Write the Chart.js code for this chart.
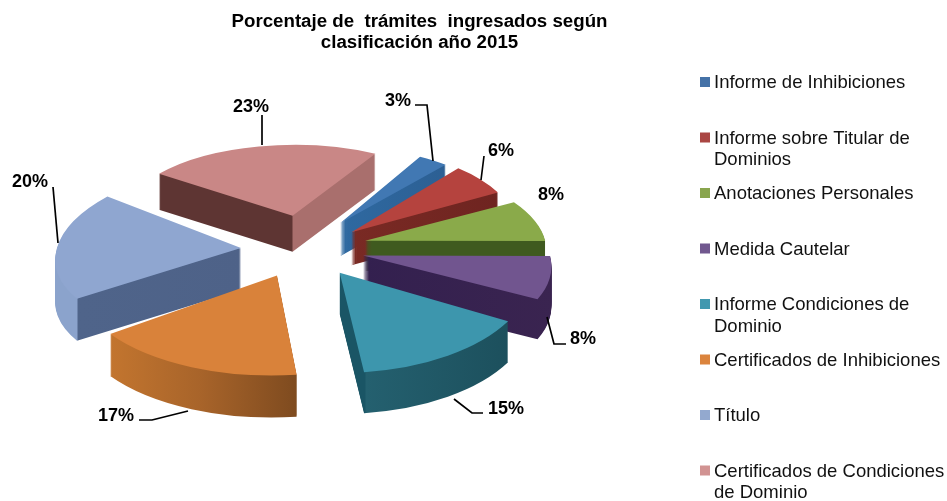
<!DOCTYPE html>
<html><head><meta charset="utf-8">
<style>html,body{margin:0;padding:0;background:#fff}canvas{display:block}</style>
<script src="https://cdn.jsdelivr.net/npm/chart.js@4"></script>
</head><body><canvas id="c" width="947" height="501"></canvas>
<script>
const categories = ['Informe de Inhibiciones','Informe sobre Titular de Dominios','Anotaciones Personales','Medida Cautelar','Informe Condiciones de Dominio','Certificados de Inhibiciones','Título','Certificados de Condiciones de Dominio'];
const legendLines = [['Informe de Inhibiciones'],['Informe sobre Titular de','Dominios'],['Anotaciones Personales'],['Medida Cautelar'],['Informe Condiciones de','Dominio'],['Certificados de Inhibiciones'],['Título'],['Certificados de Condiciones','de Dominio']];
const values = [3,6,8,8,15,17,20,23];
const titleLines = ['Porcentaje de  trámites  ingresados según','clasificación año 2015'];

const legendColors = ['#4572a7','#aa4643','#89a54e','#71588f','#4198af','#db843d','#93a9cf','#d19392'];
const topColors = ['#4178b3','#b5433e','#8aaa4a','#71558f','#3d96ad','#d9823a','#8fa6d0','#c98786'];
// wall shading: [pixel x, colour] stops
const wallStops = [
 [[330,'#2f6aa2'],[450,'#2c5f93']],
 [[345,'#7a2a24'],[505,'#6e2420']],
 [[360,'#3f5a1f'],[550,'#3f5a1f']],
 [[360,'#33204f'],[555,'#3a2450']],
 [[335,'#1a5565'],[365,'#1a5565'],[366,'#24606f'],[515,'#1c4f5c']],
 [[105,'#c4762f'],[200,'#a8642a'],[300,'#7d4a1f']],
 [[50,'#8ba3cc'],[77,'#8ba3cc'],[78,'#4f648a'],[245,'#4e6288']],
 [[155,'#5e3533'],[292,'#5e3533'],[293,'#a96f6d'],[380,'#a96f6d']]
];
// per-slice projection of the tilted pie
const radiusX = [165,167,180,187,192,202,184,167];
const radiusY = [76,83,80,90,100,100,87,71];
const skew = [0,0,0.24,0.25,0.01,-0.05,-0.29,-0.03];
const explodeX = [62,60,62,60,62,70,64,58];
const explodeY = [30,25,30,30,30,30,30,33];
const depth = [33,33,30,40,41,42,42,36];
const drawOrder = [7,0,1,2,6,3,5,4];
const pieCenter = {x:305,y:248};

// label text centre + leader polyline (in page pixels)
const labelPos = [[398,101],[501,151],[551,195],[583,339],[506,409],[116,416],[30,182],[251,107]];
const leaders = [
 [[415,105],[427,105],[433,161]],
 [[484,156],[481,180]],
 [],
 [[547,317],[554,344],[566,344]],
 [[454,399],[472,413],[483,413]],
 [[139,420],[152,420],[188,411]],
 [[53,187],[58,243]],
 [[262,115],[262,145]]
];
const legendLayout = {boxX:700,textX:714,firstY:82,step:55.5,lineH:21.5,box:10,textDy:1};
const FONT = '"Liberation Sans", Arial, sans-serif';

const pie3d = {
 id:'pie3d',
 beforeDatasetsDraw(chart){
  const ctx = chart.ctx, arcs = chart.getDatasetMeta(0).data;
  drawOrder.forEach(i=>{
   const a = arcs[i], base = a.options;
   const mid = (a.startAngle+a.endAngle)/2;
   const sx = radiusX[i]/a.outerRadius, sy = radiusY[i]/a.outerRadius, k = skew[i];
   const tx = pieCenter.x + Math.cos(mid)*explodeX[i], ty = pieCenter.y + Math.sin(mid)*explodeY[i];
   const place = d=>{ctx.transform(sx,0,k*sy,sy,tx,ty+d);ctx.translate(-a.x,-a.y);};
   // gradient vector whose colour bands stay vertical on the page under the skew
   const nx = sx, ny = k*sy, nn = nx*nx+ny*ny;
   const toUser = px=>[a.x+nx*(px-tx)/nn, a.y+ny*(px-tx)/nn];
   const s = wallStops[i], x0=s[0][0], x1=s[s.length-1][0];
   const g = ctx.createLinearGradient(...toUser(x0),...toUser(x1));
   s.forEach(([p,c])=>g.addColorStop((p-x0)/(x1-x0),c));
   a.options = Object.assign({},base,{backgroundColor:g,borderWidth:0});
   for(let d=depth[i];d>=1;d--){ctx.save();place(d);a.draw(ctx);ctx.restore();}
   a.options = Object.assign({},base,{backgroundColor:topColors[i],borderWidth:0});
   ctx.save();place(0);a.draw(ctx);ctx.restore();
   a.options = base;
  });
  return false;
 },
 afterDraw(chart){
  const ctx = chart.ctx;
  ctx.save();
  ctx.strokeStyle='#000';ctx.lineWidth=1.7;
  leaders.forEach(l=>{ if(!l.length)return; ctx.beginPath(); l.forEach(([x,y],k)=>k?ctx.lineTo(x,y):ctx.moveTo(x,y)); ctx.stroke(); });
  ctx.fillStyle='#000';ctx.font='bold 18px '+FONT;ctx.textAlign='center';ctx.textBaseline='middle';
  values.forEach((v,i)=>ctx.fillText(v+'%',labelPos[i][0],labelPos[i][1]));
  const L = legendLayout;
  ctx.textAlign='left';ctx.font='18.5px '+FONT;
  legendLines.forEach((lines,i)=>{
   const y = L.firstY+i*L.step;
   ctx.fillStyle=legendColors[i];ctx.fillRect(L.boxX,y-L.box/2,L.box,L.box);
   ctx.fillStyle='#111';
   lines.forEach((t,k)=>ctx.fillText(t,L.textX,y+L.textDy+k*L.lineH));
  });
  ctx.restore();
 }
};

new Chart(document.getElementById('c'),{
 type:'pie',
 data:{labels:categories,datasets:[{data:values,backgroundColor:legendColors,borderWidth:0}]},
 options:{
  responsive:false,animation:false,rotation:29,radius:180,
  layout:{padding:{left:0,right:108,top:11,bottom:0}},
  plugins:{
   legend:{display:false},tooltip:{enabled:false},
   title:{display:true,fullSize:false,text:titleLines,color:'#000',padding:0,font:{family:FONT,size:18.7,weight:'bold',lineHeight:1.15}}
  }
 },
 plugins:[pie3d]
});
</script></body></html>
